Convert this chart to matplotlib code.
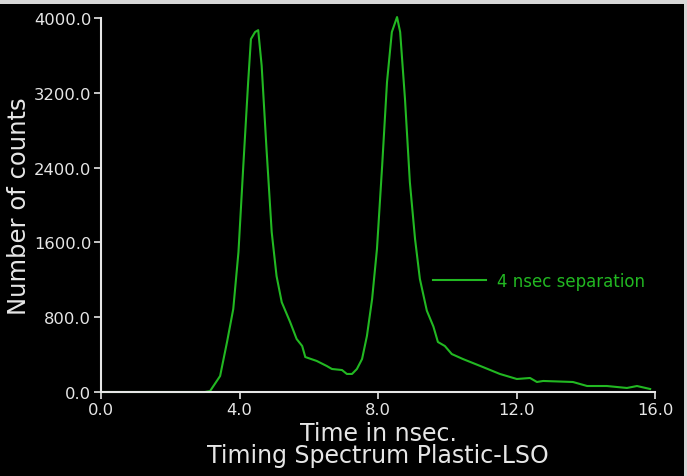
import matplotlib.pyplot as plt
from matplotlib.patches import Rectangle

# timing spectrum
time_ns = [0.0, 3.0, 3.15, 3.44, 3.64, 3.82, 3.97, 4.11, 4.25, 4.33, 4.45, 4.54,
           4.64, 4.78, 4.93, 5.07, 5.22, 5.46, 5.65, 5.81, 5.90, 6.23, 6.52, 6.67,
           6.96, 7.10, 7.25, 7.39, 7.54, 7.68, 7.83, 7.97, 8.12, 8.26, 8.40, 8.55,
           8.64, 8.78, 8.92, 9.07, 9.21, 9.41, 9.60, 9.73, 9.93, 10.13, 10.45,
           11.03, 11.52, 12.01, 12.39, 12.59, 12.77, 13.63, 14.04, 14.61, 15.19,
           15.48, 15.86]
counts = [0, 0, 10, 171, 535, 888, 1497, 2420, 3315, 3775, 3850, 3870,
          3490, 2600, 1710, 1240, 960, 750, 567, 492, 374, 332, 278, 246,
          235, 193, 193, 246, 353, 599, 995, 1530, 2420, 3315, 3850, 4010,
          3850, 3130, 2245, 1636, 1208, 870, 700, 535, 492, 406, 353,
          267, 193, 139, 150, 107, 118, 107, 64, 64, 43,
          64, 32]

x_ticks = [0, 4, 8, 12, 16]
y_ticks = [0, 800, 1600, 2400, 3200, 4000]

green = '#22b822'
fg = '#e6e6e6'

fig = plt.figure(figsize=(6.87, 4.77), dpi=100, facecolor='#d8d8d8')
# black screen area (light border at top and right in the original screenshot)
fig.add_artist(Rectangle((0, 0), 684 / 687, 472 / 477, transform=fig.transFigure,
                         facecolor='black', edgecolor='none', zorder=-10))
ax = fig.add_axes([101 / 687, 84 / 477, 554 / 687, 374 / 477])
ax.set_facecolor('black')

ax.plot(time_ns, counts, color=green, lw=1.5, label='4 nsec separation', clip_on=False)

ax.set_xlim(0, 16)
ax.set_ylim(0, 4000)
ax.set_xticks(x_ticks)
ax.set_xticklabels([f'{v:.1f}' for v in x_ticks])
ax.set_yticks(y_ticks)
ax.set_yticklabels([f'{v:.1f}' for v in y_ticks])

for side in ['top', 'right']:
    ax.spines[side].set_visible(False)
for side in ['left', 'bottom']:
    ax.spines[side].set_color(fg)
    ax.spines[side].set_linewidth(1.5)
ax.tick_params(colors=fg, labelsize=11.8, length=5, width=1.2, pad=2)

ax.set_ylabel('Number of counts', color=fg, fontsize=17.5, labelpad=2)
ax.set_xlabel('Time in nsec.\nTiming Spectrum Plastic-LSO', color=fg, fontsize=17,
              labelpad=3, linespacing=0.92)

lg = ax.legend(loc='center left', bbox_to_anchor=(0.599, 0.297), frameon=False,
               borderpad=0, borderaxespad=0, handlelength=3.2, handletextpad=0.65,
               fontsize=12)
for t in lg.get_texts():
    t.set_color(green)

fig.savefig('out.png', dpi=100, facecolor=fig.get_facecolor())
